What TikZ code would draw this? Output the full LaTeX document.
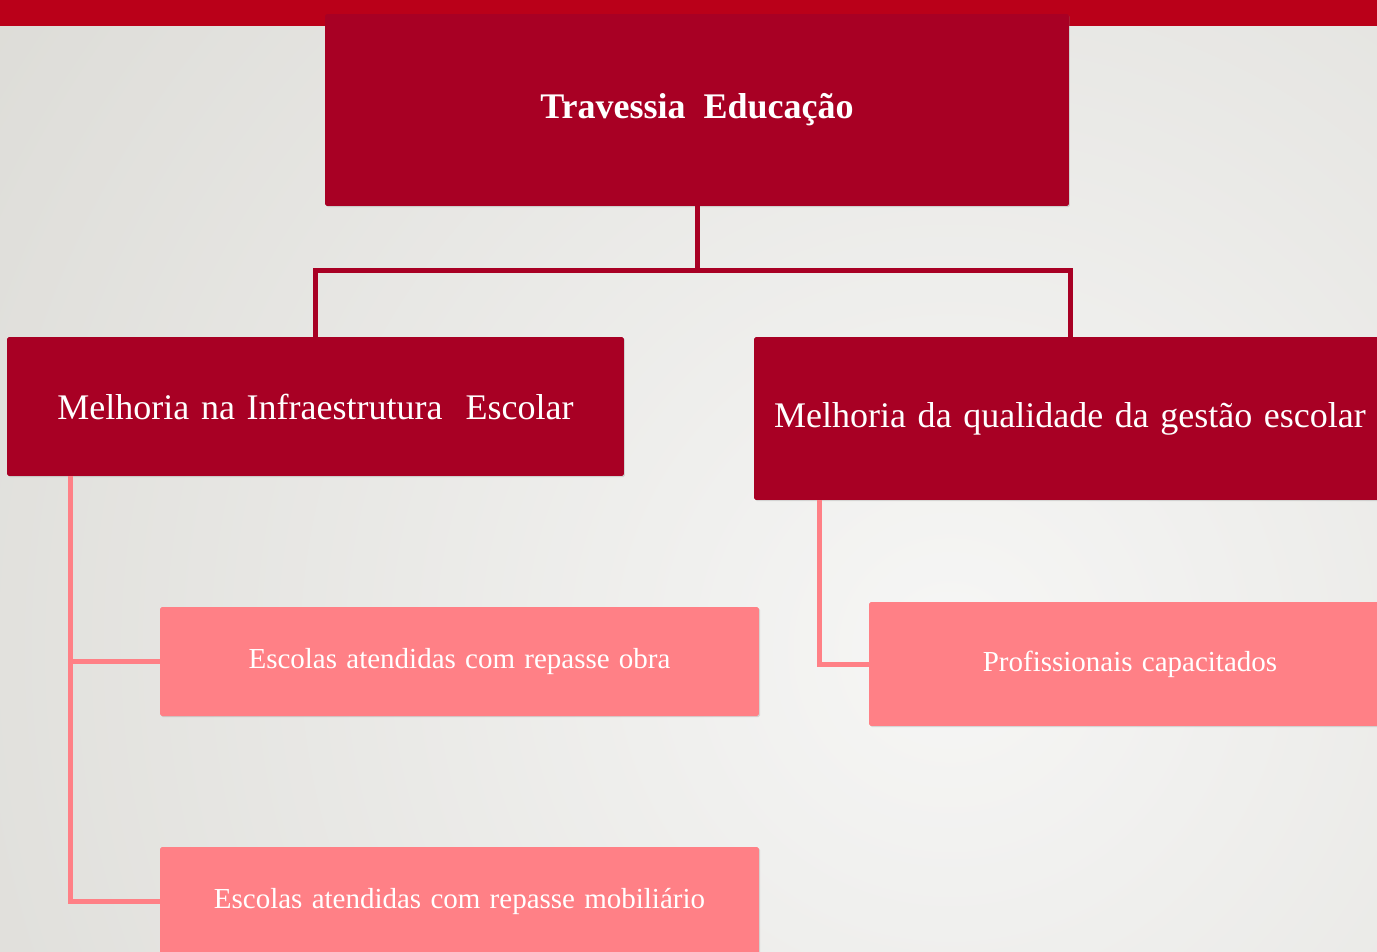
\documentclass[tikz,border=0pt]{standalone}
\usepackage{fontspec}
\setmainfont{Liberation Serif}
\usetikzlibrary{calc, shadows}
\definecolor{bandred}{RGB}{186,0,25}
\definecolor{crimson}{RGB}{168,0,36}
\definecolor{salmon}{RGB}{255,128,134}
\definecolor{bgout}{RGB}{218,217,212}
\definecolor{bgin}{RGB}{246,246,245}
\newcommand{\widesp}{\spaceskip=0.32em plus 0.1em\relax}
\begin{document}
\begin{tikzpicture}[
        x=0.02cm, y=-0.02cm,
        mainbox/.style={fill=crimson, text=white, rounded corners=1pt,
            drop shadow={opacity=0.25, shadow xshift=0.6pt, shadow yshift=-0.6pt}},
        subbox/.style={fill=salmon, text=white, rounded corners=1pt,
            font=\fontsize{16.5}{18}\selectfont\widesp,
            drop shadow={opacity=0.25, shadow xshift=0.6pt, shadow yshift=-0.6pt}},
        trunk/.style={line width=0.1cm, crimson},
        branch/.style={line width=0.1cm, salmon},
    ]
        % --- Fundo ---
        \useasboundingbox (0,0) rectangle (1377,951);
        \clip (0,0) rectangle (1377,951);
        \fill[bgout] (0,0) rectangle (1377,951);
        \shade[inner color=bgin, outer color=bgout] (950,650) circle (1300);
        \fill[bandred] (0,0) rectangle (1377,26);

        % --- Caixas principais ---
        \node[mainbox, minimum width=14.88cm, minimum height=3.84cm,
              font=\fontsize{20.5}{24}\selectfont\bfseries] (travessia) at (697,110) {\raisebox{-1.5pt}{Travessia\ \ Educação}};
        \node[mainbox, minimum width=12.34cm, minimum height=2.78cm,
              font=\fontsize{20.5}{24}\selectfont\widesp] (infra) at (315.5,406.5) {Melhoria na Infraestrutura\ \ Escolar};
        \node[mainbox, minimum width=12.64cm, minimum height=3.26cm,
              font=\fontsize{20.5}{24}\selectfont\widesp] (gestao) at (1070,418.5) {\raisebox{-1.5pt}{Melhoria da qualidade da gestão escolar}};

        % --- Caixas secundarias ---
        \node[subbox, minimum width=11.98cm, minimum height=2.18cm] (obra) at (459.5,661.5) {Escolas atendidas com repasse obra};
        \node[subbox, minimum width=11.98cm, minimum height=2.16cm] (mobiliario) at (459.5,901) {Escolas atendidas com repasse mobiliário};
        \node[subbox, minimum width=10.44cm, minimum height=2.48cm] (profissionais) at (1130,664) {Profissionais capacitados};

        % --- Conectores ---
        \coordinate (fork) at (697,270);
        \draw[trunk] (travessia.south) -- (fork) -| (infra.north);
        \draw[trunk] (fork) -| (gestao.north);
        \draw[branch] ([xshift=1.28cm]infra.south west) |- (obra.west);
        \draw[branch] ([xshift=1.28cm]infra.south west) |- (mobiliario.west);
        \draw[branch] ([xshift=1.32cm]gestao.south west) |- (profissionais.west);
    \end{tikzpicture}
\end{document}
